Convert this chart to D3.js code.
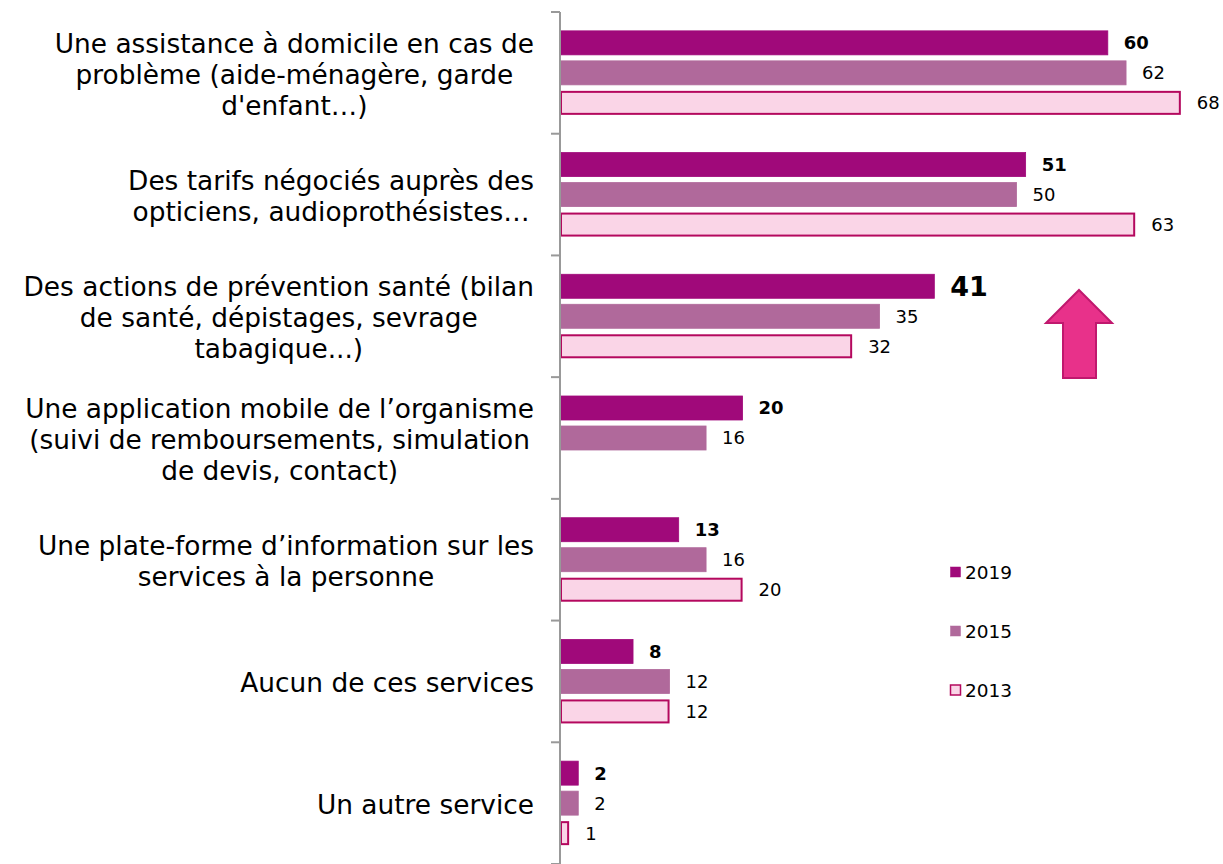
<!DOCTYPE html>
<html><head><meta charset="utf-8">
<script src="https://cdn.jsdelivr.net/npm/d3@7"></script>
<style>
html,body{margin:0;padding:0;background:#fff;}
svg{display:block;font-family:"DejaVu Sans",Verdana,sans-serif;}
</style></head>
<body>
<svg id="chart" width="1223" height="864"></svg>
<script>
const categories = [
  ["Une assistance à domicile en cas de","problème (aide-ménagère, garde","d'enfant…)"],
  ["Des tarifs négociés auprès des","opticiens, audioprothésistes…"],
  ["Des actions de prévention santé (bilan","de santé, dépistages, sevrage","tabagique...)"],
  ["Une application mobile de l’organisme","(suivi de remboursements, simulation","de devis, contact)"],
  ["Une plate-forme d’information sur les","services à la personne"],
  ["Aucun de ces services"],
  ["Un autre service"]
];
const seriesNames = ["2019","2015","2013"];
const values2019 = [60,51,41,20,13,8,2];
const values2015 = [62,50,35,16,16,12,2];
const values2013 = [68,63,32,null,20,12,1];
const highlightIndex = 2;

const colors = {"2019":"#A0097A","2015":"#B0699B","2013":"#FAD5E7"};
const strokes = {"2019":"#A0097A","2015":"#B0699B","2013":"#B4085E"};

const svg = d3.select("#chart");
const catKeys = categories.map((c,i)=>"c"+i);
const y = d3.scaleBand().domain(catKeys).range([12,864]).paddingInner(0).paddingOuter(0);
const x = d3.scaleLinear().domain([0,100]).range([560,1473]);
const bw = y.bandwidth();
const inner = d3.scaleBand().domain(seriesNames).range([bw/2-42, bw/2+42]).paddingInner(0.2).paddingOuter(0);

const seriesVals = {"2019":values2019,"2015":values2015,"2013":values2013};
const rows = [];
seriesNames.forEach(s=>{
  seriesVals[s].forEach((v,i)=>{ if(v!==null) rows.push({s, i, v}); });
});

// bars
svg.append("g").selectAll("rect").data(rows).join("rect")
  .attr("x", d=>x(0)+1)
  .attr("y", d=>y(catKeys[d.i])+inner(d.s) + (d.s==="2013"?1:0))
  .attr("width", d=>x(d.v)-x(0)-1 - (d.s==="2013"?1:0))
  .attr("height", d=>inner.bandwidth() - (d.s==="2013"?2:0))
  .attr("fill", d=>colors[d.s])
  .attr("stroke", d=>strokes[d.s])
  .attr("stroke-width", d=>d.s==="2013"?2:0.8);

// value labels
svg.append("g").selectAll("text").data(rows).join("text")
  .attr("x", d=>x(d.v)+16)
  .attr("y", d=>y(catKeys[d.i])+inner(d.s)+inner.bandwidth()/2)
  .attr("dy","0.36em")
  .attr("font-size", d=>(d.s==="2019" && d.i===highlightIndex)?27:18)
  .attr("font-weight", d=>d.s==="2019"?"bold":"normal")
  .attr("fill","#000")
  .text(d=>d.v);

// axis
const axis = d3.axisLeft(y).tickSize(0).tickFormat("");
const ag = svg.append("g").attr("transform","translate(560,0)").call(axis);
ag.select(".domain").attr("stroke","#999").attr("stroke-width",2).attr("d","M0,12V864");
// tick marks at band boundaries
const bounds = catKeys.map(k=>y(k)).concat([y.range()[1]]);
svg.append("g").selectAll("line").data(bounds).join("line")
  .attr("x1",551).attr("x2",560)
  .attr("y1",d=>d).attr("y2",d=>d)
  .attr("stroke","#999").attr("stroke-width",2);

// category labels
const lh = 31;
categories.forEach((lines,i)=>{
  const cy = y(catKeys[i]) + bw/2 + 1.5;
  const g = svg.append("g");
  const texts = lines.map((ln,j)=> g.append("text")
    .attr("font-size",26.4).attr("fill","#000")
    .attr("text-anchor","middle")
    .attr("y", cy + (j-(lines.length-1)/2)*lh)
    .attr("dy","0.35em")
    .text(ln));
  const maxW = d3.max(texts, t=>t.node().getComputedTextLength());
  const cx = 534 - maxW/2;
  texts.forEach(t=>t.attr("x",cx));
});

// legend
const legY = [572,631,690];
const lg = svg.append("g");
seriesNames.forEach((s,k)=>{
  lg.append("rect").attr("x",950.5).attr("y",legY[k]-5).attr("width",10).attr("height",10)
    .attr("fill",colors[s]).attr("stroke",strokes[s]).attr("stroke-width",s==="2013"?1.5:0.5);
  lg.append("text").attr("x",965).attr("y",legY[k]).attr("dy","0.36em")
    .attr("font-size",18.5).attr("fill","#000").text(s);
});

// arrow annotation
svg.append("path")
  .attr("d","M1079,290 L1112,323 L1096,323 L1096,378 L1063,378 L1063,323 L1046,323 Z")
  .attr("fill","#E8318A").attr("stroke","#C0186E").attr("stroke-width",2).attr("stroke-linejoin","miter");
</script>
</body></html>
